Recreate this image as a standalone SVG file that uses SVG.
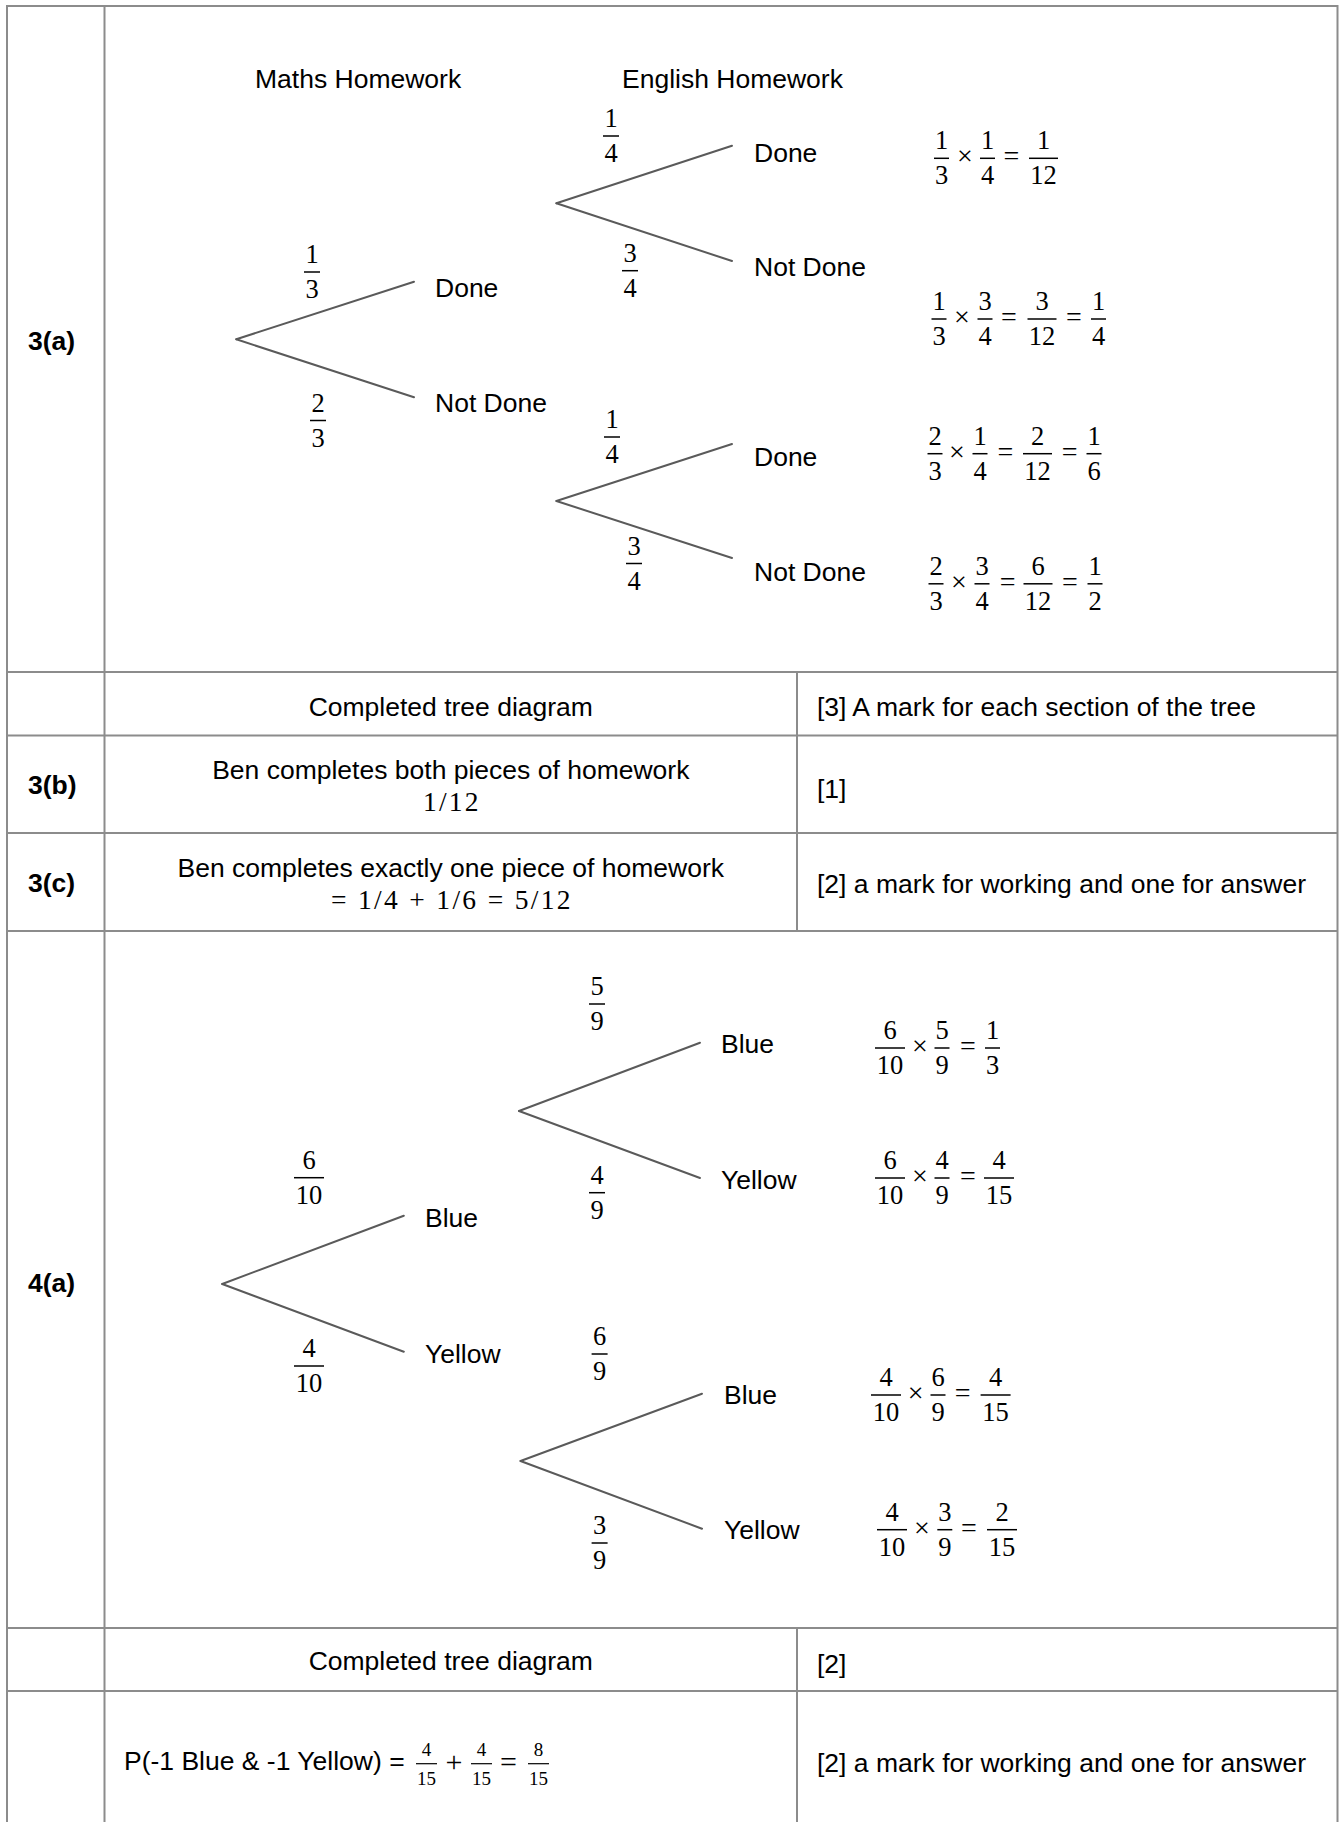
<svg xmlns="http://www.w3.org/2000/svg" width="1340" height="1822" viewBox="0 0 1340 1822">
<style>
.t{font-family:"Liberation Sans",Arial,sans-serif;font-size:26.5px;fill:#000}
.b{font-weight:bold}
.c{text-anchor:middle}
.m{font-family:"Liberation Serif","Times New Roman",serif;font-size:26.5px;fill:#000;text-anchor:middle}
.op{font-family:"Liberation Serif","Times New Roman",serif;font-size:28px;fill:#000;text-anchor:middle}
.sm{font-family:"Liberation Serif","Times New Roman",serif;font-size:19px;fill:#000;text-anchor:middle}
.bar{stroke:#000;stroke-width:1.5}
.grid{stroke:#8c8c8c;stroke-width:2;fill:none}
.br{stroke:#5a5a5a;stroke-width:2;fill:none;stroke-linecap:round}
</style>
<rect width="1340" height="1822" fill="#fff"/>

<g id="table" class="grid">
<line x1="6" y1="6" x2="1338" y2="6"/>
<line x1="7" y1="5" x2="7" y2="1822"/>
<line x1="1337.5" y1="5" x2="1337.5" y2="1822"/>
<line x1="104.5" y1="6" x2="104.5" y2="1822"/>
<line x1="7" y1="672" x2="1337.5" y2="672"/>
<line x1="7" y1="735.5" x2="1337.5" y2="735.5"/>
<line x1="7" y1="833" x2="1337.5" y2="833"/>
<line x1="7" y1="931" x2="1337.5" y2="931"/>
<line x1="7" y1="1628" x2="1337.5" y2="1628"/>
<line x1="7" y1="1691" x2="1337.5" y2="1691"/>
<line x1="797" y1="672" x2="797" y2="931"/>
<line x1="797" y1="1628" x2="797" y2="1822"/>
</g>

<g id="connectors" class="br">
<line x1="236.3" y1="339.3" x2="414" y2="281.7"/>
<line x1="236.3" y1="339.3" x2="414" y2="397.3"/>
<line x1="556.4" y1="203.3" x2="732" y2="145.7"/>
<line x1="556.4" y1="203.3" x2="732" y2="261"/>
<line x1="556.4" y1="501" x2="732" y2="444"/>
<line x1="556.4" y1="501" x2="732" y2="558"/>
<line x1="222.2" y1="1284" x2="403.8" y2="1215.7"/>
<line x1="222.2" y1="1284" x2="403.8" y2="1351.7"/>
<line x1="519" y1="1111" x2="700" y2="1042.7"/>
<line x1="519" y1="1111" x2="700" y2="1178"/>
<line x1="520.5" y1="1461" x2="702" y2="1393.7"/>
<line x1="520.5" y1="1461" x2="702" y2="1528.7"/>
</g>

<!-- row labels -->
<g id="label-3a"><text class="t b" x="28" y="350">3(a)</text></g>
<g id="label-3b"><text class="t b" x="28" y="794">3(b)</text></g>
<g id="label-3c"><text class="t b" x="28" y="892">3(c)</text></g>
<g id="label-4a"><text class="t b" x="28" y="1292">4(a)</text></g>

<!-- 3(a) headings -->
<g id="head-maths"><text class="t" x="255" y="88">Maths Homework</text></g>
<g id="head-english"><text class="t" x="622" y="88">English Homework</text></g>

<!-- 3(a) outcome nodes -->
<g id="m-done"><text class="t" x="435" y="297">Done</text></g>
<g id="m-notdone"><text class="t" x="435" y="412">Not Done</text></g>
<g id="e1-done"><text class="t" x="754" y="162">Done</text></g>
<g id="e1-notdone"><text class="t" x="754" y="276">Not Done</text></g>
<g id="e2-done"><text class="t" x="754" y="466">Done</text></g>
<g id="e2-notdone"><text class="t" x="754" y="581">Not Done</text></g>

<!-- 3(a) branch probabilities -->
<g id="p-m-done"><text class="m" x="312" y="263">1</text><line class="bar" x1="304" y1="272" x2="320" y2="272"/><text class="m" x="312" y="298">3</text></g>
<g id="p-m-notdone"><text class="m" x="318" y="411.5">2</text><line class="bar" x1="310" y1="420.5" x2="326" y2="420.5"/><text class="m" x="318" y="446.5">3</text></g>
<g id="p-e1-done"><text class="m" x="611" y="127">1</text><line class="bar" x1="603" y1="136" x2="619" y2="136"/><text class="m" x="611" y="162">4</text></g>
<g id="p-e1-notdone"><text class="m" x="630" y="261.7">3</text><line class="bar" x1="622" y1="270.7" x2="638" y2="270.7"/><text class="m" x="630" y="296.7">4</text></g>
<g id="p-e2-done"><text class="m" x="612" y="428">1</text><line class="bar" x1="604" y1="437" x2="620" y2="437"/><text class="m" x="612" y="463">4</text></g>
<g id="p-e2-notdone"><text class="m" x="634" y="554.5">3</text><line class="bar" x1="626" y1="563.5" x2="642" y2="563.5"/><text class="m" x="634" y="589.5">4</text></g>

<!-- 3(a) results -->
<g id="r1">
<text class="m" x="941.5" y="149.3">1</text><line class="bar" x1="934" y1="158.3" x2="949" y2="158.3"/><text class="m" x="941.5" y="184.3">3</text>
<text class="op" x="965" y="165.3">×</text>
<text class="m" x="987.5" y="149.3">1</text><line class="bar" x1="980" y1="158.3" x2="995" y2="158.3"/><text class="m" x="987.5" y="184.3">4</text>
<text class="op" x="1011.5" y="165.3">=</text>
<text class="m" x="1043.5" y="149.3">1</text><line class="bar" x1="1029" y1="158.3" x2="1058" y2="158.3"/><text class="m" x="1043.5" y="184.3">12</text>
</g>
<g id="r2">
<text class="m" x="939" y="310">1</text><line class="bar" x1="931.5" y1="319" x2="946.5" y2="319"/><text class="m" x="939" y="345">3</text>
<text class="op" x="962" y="326">×</text>
<text class="m" x="985" y="310">3</text><line class="bar" x1="977.5" y1="319" x2="992.5" y2="319"/><text class="m" x="985" y="345">4</text>
<text class="op" x="1009" y="326">=</text>
<text class="m" x="1042" y="310">3</text><line class="bar" x1="1027.5" y1="319" x2="1056.5" y2="319"/><text class="m" x="1042" y="345">12</text>
<text class="op" x="1074" y="326">=</text>
<text class="m" x="1098.6" y="310">1</text><line class="bar" x1="1091" y1="319" x2="1106" y2="319"/><text class="m" x="1098.6" y="345">4</text>
</g>
<g id="r3">
<text class="m" x="935" y="444.7">2</text><line class="bar" x1="927.5" y1="453.7" x2="942.5" y2="453.7"/><text class="m" x="935" y="479.7">3</text>
<text class="op" x="957" y="460.7">×</text>
<text class="m" x="980" y="444.7">1</text><line class="bar" x1="972.5" y1="453.7" x2="987.5" y2="453.7"/><text class="m" x="980" y="479.7">4</text>
<text class="op" x="1005.5" y="460.7">=</text>
<text class="m" x="1037.5" y="444.7">2</text><line class="bar" x1="1023" y1="453.7" x2="1052" y2="453.7"/><text class="m" x="1037.5" y="479.7">12</text>
<text class="op" x="1069.6" y="460.7">=</text>
<text class="m" x="1094" y="444.7">1</text><line class="bar" x1="1086.5" y1="453.7" x2="1101.5" y2="453.7"/><text class="m" x="1094" y="479.7">6</text>
</g>
<g id="r4">
<text class="m" x="936" y="574.8">2</text><line class="bar" x1="928.5" y1="583.8" x2="943.5" y2="583.8"/><text class="m" x="936" y="609.8">3</text>
<text class="op" x="959" y="590.8">×</text>
<text class="m" x="982" y="574.8">3</text><line class="bar" x1="974.5" y1="583.8" x2="989.5" y2="583.8"/><text class="m" x="982" y="609.8">4</text>
<text class="op" x="1007.6" y="590.8">=</text>
<text class="m" x="1038" y="574.8">6</text><line class="bar" x1="1023.5" y1="583.8" x2="1052.5" y2="583.8"/><text class="m" x="1038" y="609.8">12</text>
<text class="op" x="1070" y="590.8">=</text>
<text class="m" x="1095" y="574.8">1</text><line class="bar" x1="1087.5" y1="583.8" x2="1102.5" y2="583.8"/><text class="m" x="1095" y="609.8">2</text>
</g>

<!-- 3 mark rows -->
<g id="row3-completed"><text class="t c" x="450.8" y="716">Completed tree diagram</text></g>
<g id="row3-marks"><text class="t" x="817" y="716">[3] A mark for each section of the tree</text></g>
<g id="row3b-answer">
<text class="t c" x="450.8" y="779">Ben completes both pieces of homework</text>
<text class="m" x="423" y="811" style="font-size:27.5px;text-anchor:start" textLength="55.6" lengthAdjust="spacing">1/12</text>
</g>
<g id="row3b-marks"><text class="t" x="817" y="798">[1]</text></g>
<g id="row3c-answer">
<text class="t c" x="450.8" y="877">Ben completes exactly one piece of homework</text>
<text class="m" x="331" y="909" style="font-size:27.5px;text-anchor:start" textLength="239.5" lengthAdjust="spacing">=  1/4 + 1/6 = 5/12</text>
</g>
<g id="row3c-marks"><text class="t" x="817" y="893">[2] a mark for working and one for answer</text></g>

<!-- 4(a) outcome nodes -->
<g id="c-blue"><text class="t" x="425" y="1227">Blue</text></g>
<g id="c-yellow"><text class="t" x="425" y="1363">Yellow</text></g>
<g id="b1-blue"><text class="t" x="721" y="1053">Blue</text></g>
<g id="b1-yellow"><text class="t" x="721" y="1189">Yellow</text></g>
<g id="b2-blue"><text class="t" x="724" y="1404">Blue</text></g>
<g id="b2-yellow"><text class="t" x="724" y="1539">Yellow</text></g>

<!-- 4(a) branch probabilities -->
<g id="p-c-blue"><text class="m" x="309" y="1168.7">6</text><line class="bar" x1="294" y1="1177.7" x2="324" y2="1177.7"/><text class="m" x="309" y="1203.7">10</text></g>
<g id="p-c-yellow"><text class="m" x="309" y="1357">4</text><line class="bar" x1="294" y1="1366" x2="324" y2="1366"/><text class="m" x="309" y="1392">10</text></g>
<g id="p-b1-blue"><text class="m" x="597" y="995">5</text><line class="bar" x1="589" y1="1004" x2="605" y2="1004"/><text class="m" x="597" y="1030">9</text></g>
<g id="p-b1-yellow"><text class="m" x="597" y="1183.7">4</text><line class="bar" x1="589" y1="1192.7" x2="605" y2="1192.7"/><text class="m" x="597" y="1218.7">9</text></g>
<g id="p-b2-blue"><text class="m" x="599.6" y="1345">6</text><line class="bar" x1="591.6" y1="1354" x2="607.6" y2="1354"/><text class="m" x="599.6" y="1380">9</text></g>
<g id="p-b2-yellow"><text class="m" x="599.6" y="1534">3</text><line class="bar" x1="591.6" y1="1543" x2="607.6" y2="1543"/><text class="m" x="599.6" y="1569">9</text></g>

<!-- 4(a) results -->
<g id="s1">
<text class="m" x="890" y="1039">6</text><line class="bar" x1="875" y1="1048" x2="905" y2="1048"/><text class="m" x="890" y="1074">10</text>
<text class="op" x="920" y="1055">×</text>
<text class="m" x="942" y="1039">5</text><line class="bar" x1="934.5" y1="1048" x2="949.5" y2="1048"/><text class="m" x="942" y="1074">9</text>
<text class="op" x="968" y="1055">=</text>
<text class="m" x="992.6" y="1039">1</text><line class="bar" x1="985" y1="1048" x2="1000" y2="1048"/><text class="m" x="992.6" y="1074">3</text>
</g>
<g id="s2">
<text class="m" x="890" y="1169">6</text><line class="bar" x1="875" y1="1178" x2="905" y2="1178"/><text class="m" x="890" y="1204">10</text>
<text class="op" x="920" y="1185">×</text>
<text class="m" x="942" y="1169">4</text><line class="bar" x1="934.5" y1="1178" x2="949.5" y2="1178"/><text class="m" x="942" y="1204">9</text>
<text class="op" x="968" y="1185">=</text>
<text class="m" x="999" y="1169">4</text><line class="bar" x1="984" y1="1178" x2="1014" y2="1178"/><text class="m" x="999" y="1204">15</text>
</g>
<g id="s3">
<text class="m" x="886" y="1386">4</text><line class="bar" x1="871" y1="1395" x2="901" y2="1395"/><text class="m" x="886" y="1421">10</text>
<text class="op" x="915.7" y="1402">×</text>
<text class="m" x="938" y="1386">6</text><line class="bar" x1="930.5" y1="1395" x2="945.5" y2="1395"/><text class="m" x="938" y="1421">9</text>
<text class="op" x="962.7" y="1402">=</text>
<text class="m" x="995.6" y="1386">4</text><line class="bar" x1="980.6" y1="1395" x2="1010.6" y2="1395"/><text class="m" x="995.6" y="1421">15</text>
</g>
<g id="s4">
<text class="m" x="892" y="1520.7">4</text><line class="bar" x1="877" y1="1529.7" x2="907" y2="1529.7"/><text class="m" x="892" y="1555.7">10</text>
<text class="op" x="922" y="1536.7">×</text>
<text class="m" x="944.8" y="1520.7">3</text><line class="bar" x1="937.3" y1="1529.7" x2="952.3" y2="1529.7"/><text class="m" x="944.8" y="1555.7">9</text>
<text class="op" x="969" y="1536.7">=</text>
<text class="m" x="1002" y="1520.7">2</text><line class="bar" x1="987" y1="1529.7" x2="1017" y2="1529.7"/><text class="m" x="1002" y="1555.7">15</text>
</g>

<!-- 4 mark rows -->
<g id="row4-completed"><text class="t c" x="450.8" y="1670">Completed tree diagram</text></g>
<g id="row4-marks"><text class="t" x="817" y="1673">[2]</text></g>
<g id="row4b-answer">
<text class="t" x="124" y="1770">P(-1 Blue &amp; -1 Yellow) =</text>
<text class="sm" x="426.5" y="1756">4</text><line class="bar" x1="416" y1="1763.7" x2="437" y2="1763.7" style="stroke-width:1.2"/><text class="sm" x="426.5" y="1784.7">15</text>
<text class="op" x="454" y="1772" style="font-size:30px">+</text>
<text class="sm" x="481.6" y="1756">4</text><line class="bar" x1="471" y1="1763.7" x2="492" y2="1763.7" style="stroke-width:1.2"/><text class="sm" x="481.6" y="1784.7">15</text>
<text class="op" x="508.5" y="1772" style="font-size:30px">=</text>
<text class="sm" x="538.5" y="1756">8</text><line class="bar" x1="528" y1="1763.7" x2="549" y2="1763.7" style="stroke-width:1.2"/><text class="sm" x="538.5" y="1784.7">15</text>
</g>
<g id="row4b-marks"><text class="t" x="817" y="1772">[2] a mark for working and one for answer</text></g>
</svg>
